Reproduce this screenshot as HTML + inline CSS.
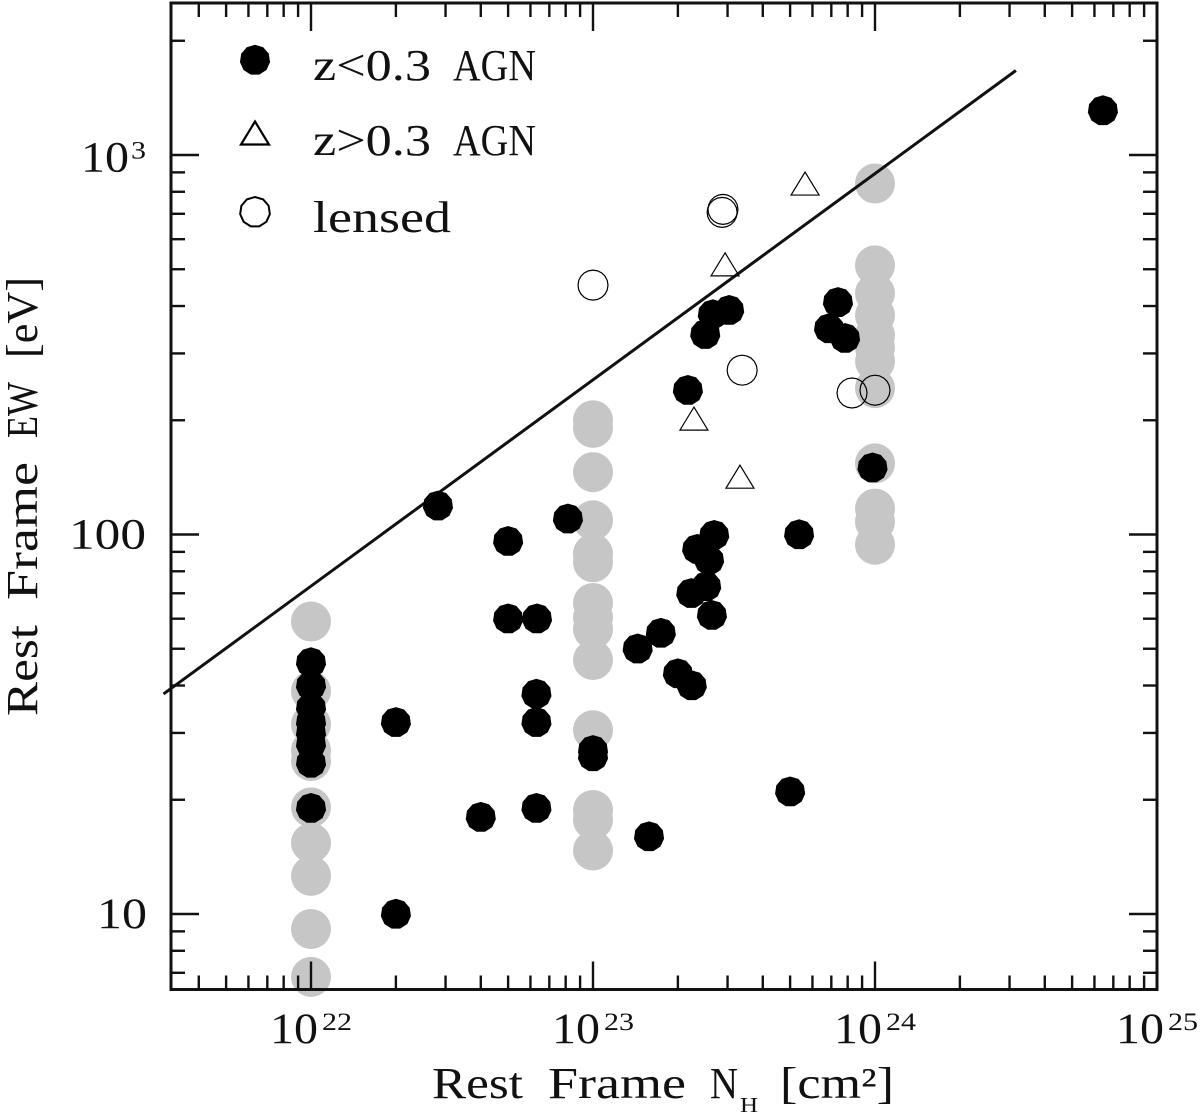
<!DOCTYPE html>
<html lang="en">
<head>
<meta charset="utf-8">
<title>Rest Frame EW vs NH</title>
<style>
html,body{margin:0;padding:0;background:#fff;}
svg{display:block;}
text{font-family:"Liberation Serif",serif;fill:#111;}
</style>
</head>
<body>
<svg id="chart" width="1200" height="1115" viewBox="0 0 1200 1115" xmlns="http://www.w3.org/2000/svg">
  <rect x="0" y="0" width="1200" height="1115" fill="#fff"/>
  <g id="gray-layer"></g>
  <g id="axes-layer"></g>
  <g id="line-layer"></g>
  <g id="black-layer"></g>
  <g id="tri-layer"></g>
  <g id="lens-layer"></g>
  <rect x="171" y="3" width="986" height="986.5" fill="none" stroke="#111" stroke-width="3"/>
  <g id="tick-label-layer"></g>

  <g>
    <polygon id="legend-black" fill="#000"/>
    <polygon id="legend-tri" fill="none" stroke="#000" stroke-width="2.2"/>
    <polygon id="legend-lens" fill="none" stroke="#000" stroke-width="2"/>
    <text x="313" y="80" font-size="44" textLength="118" lengthAdjust="spacingAndGlyphs">z&lt;0.3</text>
    <text x="453" y="80" font-size="44" textLength="83" lengthAdjust="spacingAndGlyphs">AGN</text>
    <text x="313" y="155" font-size="44" textLength="118" lengthAdjust="spacingAndGlyphs">z&gt;0.3</text>
    <text x="453" y="155" font-size="44" textLength="83" lengthAdjust="spacingAndGlyphs">AGN</text>
    <text x="313" y="232" font-size="44" textLength="138" lengthAdjust="spacingAndGlyphs">lensed</text>
  </g>

  <g>
    <text x="432" y="1098" font-size="44" textLength="91" lengthAdjust="spacingAndGlyphs">Rest</text>
    <text x="548" y="1098" font-size="44" textLength="138" lengthAdjust="spacingAndGlyphs">Frame</text>
    <text x="710" y="1098" font-size="44" textLength="28" lengthAdjust="spacingAndGlyphs">N</text>
    <text x="740" y="1112" font-size="21" textLength="18" lengthAdjust="spacingAndGlyphs">H</text>
    <text x="780" y="1098" font-size="44" textLength="114" lengthAdjust="spacingAndGlyphs">[cm²]</text>
  </g>
  <g>
    <text transform="translate(37,716) rotate(-90)" x="0" y="0" font-size="44" textLength="91" lengthAdjust="spacingAndGlyphs">Rest</text>
    <text transform="translate(37,600) rotate(-90)" x="0" y="0" font-size="44" textLength="138" lengthAdjust="spacingAndGlyphs">Frame</text>
    <text transform="translate(37,438) rotate(-90)" x="0" y="0" font-size="44" textLength="56" lengthAdjust="spacingAndGlyphs">EW</text>
    <text transform="translate(37,358) rotate(-90)" x="0" y="0" font-size="44" textLength="81" lengthAdjust="spacingAndGlyphs">[eV]</text>
  </g>
</svg>

<script>
// Axis tick data
const xDecades = [22, 23, 24, 25];
const yDecades = [1, 2, 3];
const minorMultiples = [2, 3, 4, 5, 6, 7, 8, 9];
const xTickSuperscripts = ["22", "23", "24", "25"];
const yTickLabels = ["10", "100", "10"];
const yTickSuperscripts = ["", "", "3"];

// NH in units of 1e22 cm^-2, EW in eV
const blackNH = [643, 2.82, 5.0, 8.15, 5.0, 6.33, 6.3, 6.3, 6.3, 4.0, 2.0, 2.0, 1, 1, 1, 1, 1, 1, 1, 1, 10, 10, 14.4, 17.4, 20, 22.4, 15.8, 50, 26.4, 22.3, 25.2, 23.4, 25.8, 26.9, 53.8, 21.7, 25, 26.6, 30.4, 73.9, 68.7, 78.3, 98];
const blackEW = [1310, 119, 96, 110, 60, 60, 38, 32, 19, 18, 32, 10, 46, 40, 35, 32, 30, 28, 25, 19, 27, 26, 50, 55, 43, 40, 16, 21, 61.3, 70, 73, 91.5, 85.6, 99.6, 100, 240, 337, 380, 390, 409, 349, 329, 150];

const triNH = [56.5, 29.4, 22.8, 33.2];
const triEW = [841, 515, 202, 142];

const lensNH = [10, 28.9, 28.7, 33.8, 82.9, 100];
const lensEW = [454, 719, 706, 271, 236, 240];

const grayNH = [1, 1, 1, 1, 1, 1, 1, 1, 1, 1, 10, 10, 10, 10, 10, 10, 10, 10, 10, 10, 10, 10, 10, 10, 100, 100, 100, 100, 100, 100, 100, 100, 100, 100, 100, 100];
const grayEW = [59, 38.7, 31.6, 27, 25.3, 19.1, 15.4, 12.6, 9.13, 6.83, 200, 191, 146, 109, 89, 84.5, 66, 60.5, 56.3, 46.7, 30.5, 18.8, 17.7, 14.7, 841, 512, 432, 378, 335, 311, 286, 243, 154, 117, 108, 94];

const lineNH = [0.3, 316];
const lineEW = [38, 1670];

const NS = "http://www.w3.org/2000/svg";
function sx(nh) { return 311 + 282 * Math.log10(nh); }
function sy(ew) { return 914 - 379.5 * (Math.log10(ew) - 1); }
function sxDecade(d) { return 311 + 282 * (d - 22); }
function syDecade(d) { return 914 - 379.5 * (d - 1); }

function make(tag, attrs, parent) {
  const el = document.createElementNS(NS, tag);
  for (const k in attrs) el.setAttribute(k, attrs[k]);
  parent.appendChild(el);
  return el;
}
function polyPoints(cx, cy, r, n) {
  const p = [];
  for (let i = 0; i < n; i++) {
    const a = -Math.PI / 2 + i * 2 * Math.PI / n;
    p.push((cx + r * Math.cos(a)).toFixed(2) + "," + (cy + r * Math.sin(a)).toFixed(2));
  }
  return p.join(" ");
}
function triPoints(cx, cy) {
  return cx + "," + (cy - 11.5) + " " + (cx + 14) + "," + (cy + 11.5) + " " + (cx - 14) + "," + (cy + 11.5);
}

const axesLayer = document.getElementById("axes-layer");
const XL = 171, XR = 1157, YT = 3, YB = 989.5;
function tickLine(x1, y1, x2, y2, w) {
  const t = make("line", { x1: x1, y1: y1, x2: x2, y2: y2, stroke: "#111", "stroke-width": w }, axesLayer);
  
  
}
function xTick(x, len) {
  if (x < XL || x > XR) return;
  tickLine(x, YB, x, YB - len, 2.4);
  tickLine(x, YT, x, YT + len, 2.4);
}
function yTick(y, len) {
  if (y < YT || y > YB) return;
  tickLine(XL, y, XL + len, y, 2.4);
  tickLine(XR, y, XR - len, y, 2.4);
}
for (let d = 21; d <= 25; d++) {
  xTick(sxDecade(d), 28);
  minorMultiples.forEach(function (m) { xTick(sxDecade(d + Math.log10(m)), 14); });
}
for (let d = 0; d <= 3; d++) {
  yTick(syDecade(d), 28);
  minorMultiples.forEach(function (m) { yTick(syDecade(d + Math.log10(m)), 14); });
}

const labelLayer = document.getElementById("tick-label-layer");
xDecades.forEach(function (d, i) {
  const x = sxDecade(d);
  const base = make("text", { x: x - 41, y: 1043, "font-size": 43, textLength: 48, lengthAdjust: "spacingAndGlyphs" }, labelLayer);
  base.textContent = "10";
  
  
  const sup = make("text", { x: x + 11, y: 1030, "font-size": 25, textLength: 30, lengthAdjust: "spacingAndGlyphs" }, labelLayer);
  sup.textContent = xTickSuperscripts[i];
  
  
});
yDecades.forEach(function (d, i) {
  const y = syDecade(d);
  const hasSup = yTickSuperscripts[i] !== "";
  const label = yTickLabels[i];
  const w = label.length === 3 ? 77 : (hasSup ? 48 : 50);
  const x = hasSup ? 81 : (label.length === 3 ? 69 : 97);
  const base = make("text", { x: x, y: y + (hasSup ? 16.5 : 14), "font-size": 43, textLength: w, lengthAdjust: "spacingAndGlyphs" }, labelLayer);
  base.textContent = label;
  
  
  if (hasSup) {
    const sup = make("text", { x: 131, y: y + 3.5, "font-size": 25, textLength: 15, lengthAdjust: "spacingAndGlyphs" }, labelLayer);
    sup.textContent = yTickSuperscripts[i];
    
    
  }
});

const grayLayer = document.getElementById("gray-layer");
grayEW.forEach(function (ew, i) {
  const c = make("circle", { cx: sx(grayNH[i]), cy: sy(ew), r: 20, fill: "#c6c6c6" }, grayLayer);
  
  
});

const lineLayer = document.getElementById("line-layer");
const refLine = make("line", { x1: sx(lineNH[0]), y1: sy(lineEW[0]), x2: sx(lineNH[1]), y2: sy(lineEW[1]), stroke: "#111", "stroke-width": 3 }, lineLayer);



const blackLayer = document.getElementById("black-layer");
blackEW.forEach(function (ew, i) {
  const p = make("polygon", { points: polyPoints(sx(blackNH[i]), sy(ew), 15.2, 11), fill: "#000" }, blackLayer);
  
  
});

const triLayer = document.getElementById("tri-layer");
triEW.forEach(function (ew, i) {
  const p = make("polygon", { points: triPoints(sx(triNH[i]), sy(ew)), fill: "none", stroke: "#000", "stroke-width": 1.2 }, triLayer);
  
  
});

const lensLayer = document.getElementById("lens-layer");
lensEW.forEach(function (ew, i) {
  const p = make("polygon", { points: polyPoints(sx(lensNH[i]), sy(ew), 15, 20), fill: "none", stroke: "#000", "stroke-width": 1.2 }, lensLayer);
  
  
});

document.getElementById("legend-black").setAttribute("points", polyPoints(255, 60, 15.2, 11));
document.getElementById("legend-tri").setAttribute("points", triPoints(255, 133));
document.getElementById("legend-lens").setAttribute("points", polyPoints(255, 212, 15, 11));
</script>
</body>
</html>
